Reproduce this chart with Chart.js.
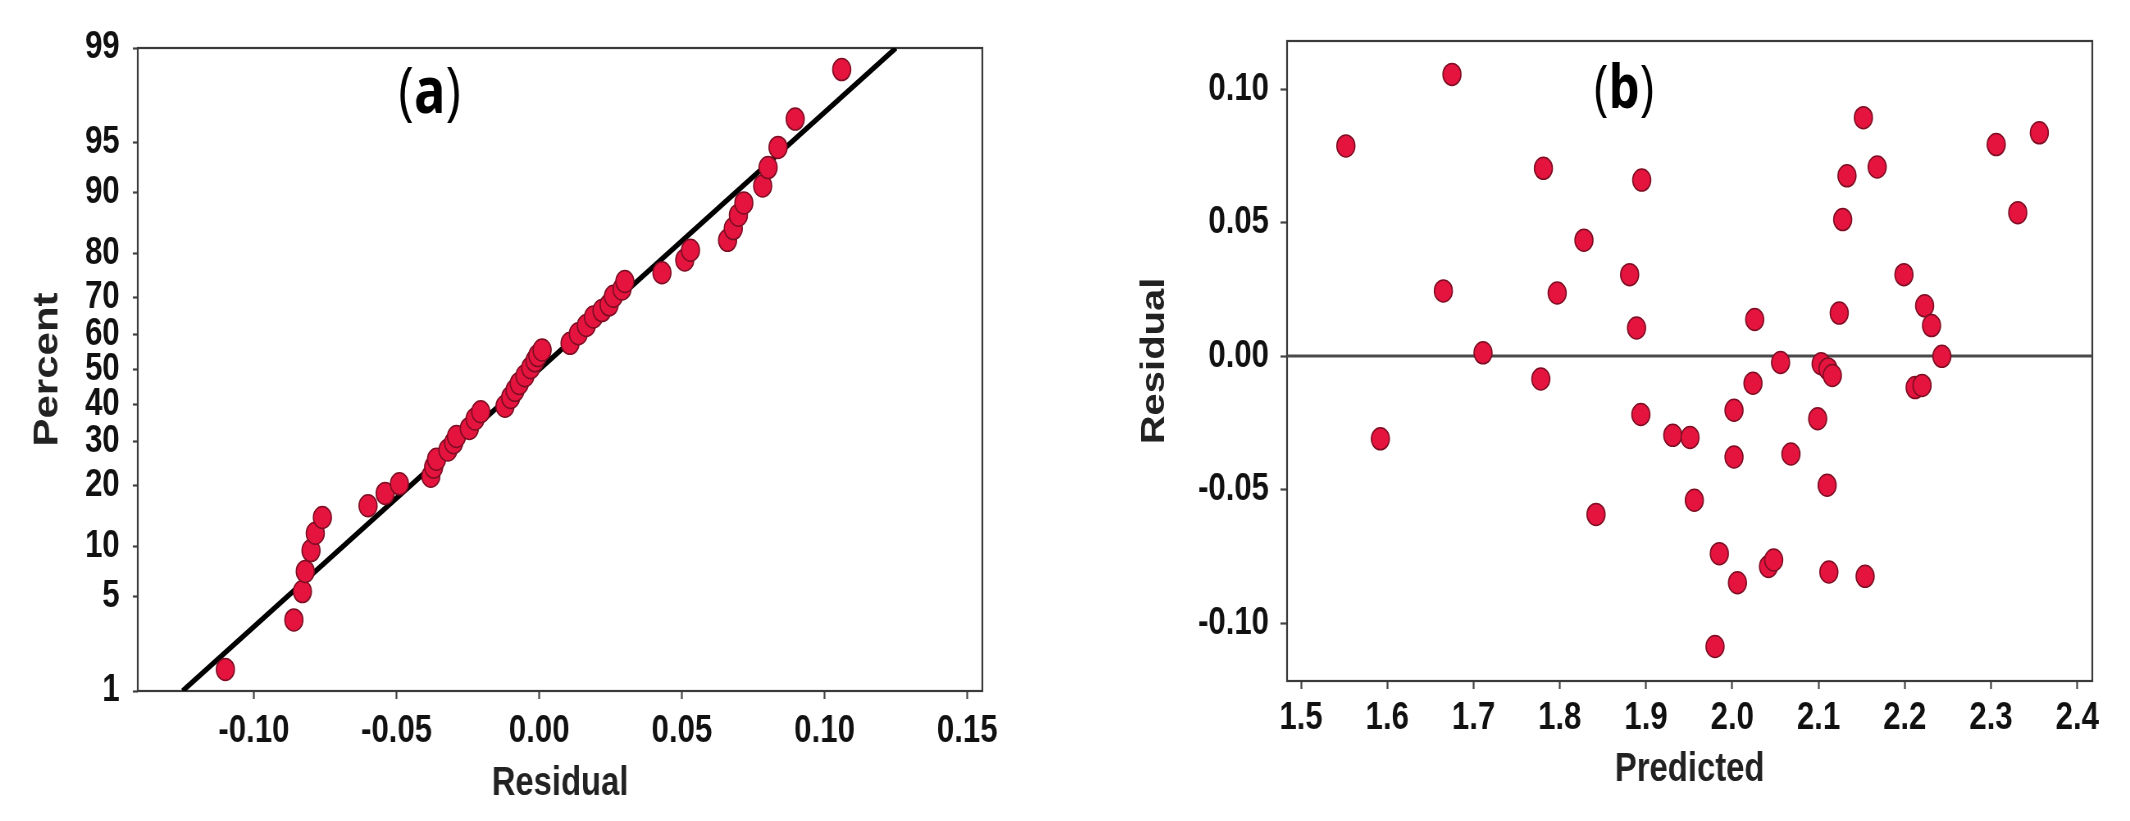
<!DOCTYPE html>
<html>
<head>
<meta charset="utf-8">
<script src="https://cdn.jsdelivr.net/npm/chart.js@4.4.0/dist/chart.umd.min.js"></script>
<style>
  html, body { margin: 0; padding: 0; background: #fff; }
  body { width: 2130px; height: 821px; position: relative; overflow: hidden; }
  /* the original figure is squeezed horizontally, so the canvases are drawn wide and shown narrower */
  canvas { position: absolute; top: 0; }
  #chartA { left: 0; }
  #chartB { left: 1064px; }
</style>
</head>
<body>
<canvas id="chartA" width="1300" height="821" style="width:1066px;height:821px"></canvas>
<canvas id="chartB" width="1300" height="821" style="width:1066px;height:821px"></canvas>
<script>
// (a) normal probability plot of residuals
const residualsA = [-0.110, -0.086, -0.083, -0.082, -0.080, -0.0785, -0.076, -0.060, -0.054, -0.049,
    -0.038, -0.037, -0.036, -0.032, -0.030, -0.029, -0.0245, -0.0225, -0.0205, -0.012,
    -0.010, -0.0085, -0.007, -0.005, -0.003, -0.0015, -0.0005, 0.001, 0.0108, 0.0137,
    0.0165, 0.019, 0.022, 0.0245, 0.026, 0.029, 0.030, 0.043, 0.051, 0.053,
    0.066, 0.068, 0.0698, 0.0717, 0.0783, 0.0802, 0.0837, 0.0897, 0.106];
const percentA = [1.5, 3.5, 5.4, 7.2, 9.5, 11.8, 14.2, 16.2, 18.5, 20.4,
    22.0, 24.0, 25.8, 28.0, 29.8, 31.4, 33.5, 36.0, 38.0, 39.5,
    42.0, 44.0, 46.0, 48.2, 50.5, 52.5, 54.0, 55.6, 57.5, 60.2,
    62.5, 64.8, 66.5, 68.0, 70.2, 72.0, 73.8, 75.8, 78.6, 80.6,
    82.5, 84.6, 86.8, 88.6, 90.8, 92.8, 94.6, 96.5, 98.5];
const fitLineX = [-0.125, 0.125];
const fitLineP = [1, 99];
const percentTicks = [1, 5, 10, 20, 30, 40, 50, 60, 70, 80, 90, 95, 99];
const residualTicksA = [-0.10, -0.05, 0.00, 0.05, 0.10, 0.15];

// (b) residuals vs predicted
const predictedB = [1.552, 1.592, 1.665, 1.675, 1.711, 1.781, 1.778, 1.797, 1.828, 1.842,
    1.881, 1.889, 1.895, 1.894, 1.931, 1.951, 1.956, 1.985, 1.980, 2.002,
    2.002, 2.006, 2.026, 2.024, 2.042, 2.048, 2.056, 2.068, 2.099, 2.103,
    2.111, 2.116, 2.110, 2.112, 2.124, 2.128, 2.133, 2.152, 2.154, 2.168,
    2.199, 2.212, 2.220, 2.223, 2.231, 2.243, 2.306, 2.331, 2.356];
const residualsB = [0.0787, -0.0310, 0.0244, 0.1055, 0.0012, 0.0703, -0.0086, 0.0236, 0.0434, -0.0593,
    0.0305, 0.0105, 0.0659, -0.0219, -0.0297, -0.0305, -0.0540, -0.0740, -0.1088, -0.0203,
    -0.0378, -0.0849, 0.0137, -0.0102, -0.0788, -0.0764, -0.0024, -0.0367, -0.0235, -0.0029,
    -0.0048, -0.0073, -0.0484, -0.0809, 0.0161, 0.0511, 0.0675, 0.0893, -0.0825, 0.0708,
    0.0305, -0.0118, -0.0110, 0.0188, 0.0114, -0.0001, 0.0792, 0.0537, 0.0836];
const predictedTicks = [1.5, 1.6, 1.7, 1.8, 1.9, 2.0, 2.1, 2.2, 2.3, 2.4];
const residualTicksB = [-0.10, -0.05, 0.00, 0.05, 0.10];

const arial = '"Liberation Sans", Arial, sans-serif';
const pointFill = '#e5143f';
const pointEdge = '#7c0d22';

Chart.defaults.color = '#111';
Chart.defaults.animation = false;

// inverse of the standard normal cdf (Acklam)
function probit(p) {
    const a = [-39.69683028665376, 220.9460984245205, -275.9285104469687, 138.3577518672690, -30.66479806614716, 2.506628277459239];
    const b = [-54.47609879822406, 161.5858368580409, -155.6989798598866, 66.80131188771972, -13.28068155288572];
    const c = [-0.007784894002430293, -0.3223964580411365, -2.400758277161838, -2.549732539343734, 4.374664141464968, 2.938163982698783];
    const d = [0.007784695709041462, 0.3224671290700398, 2.445134137142996, 3.754408661907416];
    const lo = 0.02425;
    let q, r;
    if (p < lo) {
        q = Math.sqrt(-2 * Math.log(p));
        return (((((c[0]*q+c[1])*q+c[2])*q+c[3])*q+c[4])*q+c[5]) / ((((d[0]*q+d[1])*q+d[2])*q+d[3])*q+1);
    }
    if (p > 1 - lo) {
        q = Math.sqrt(-2 * Math.log(1 - p));
        return -(((((c[0]*q+c[1])*q+c[2])*q+c[3])*q+c[4])*q+c[5]) / ((((d[0]*q+d[1])*q+d[2])*q+d[3])*q+1);
    }
    q = p - 0.5;
    r = q * q;
    return (((((a[0]*r+a[1])*r+a[2])*r+a[3])*r+a[4])*r+a[5])*q / (((((b[0]*r+b[1])*r+b[2])*r+b[3])*r+b[4])*r+1);
}

// normal probability axis for the percent scale
class ProbitScale extends Chart.LinearScale {
    buildTicks() {
        return percentTicks.map(v => ({ value: v }));
    }
    getPixelForValue(v) {
        const z0 = probit(this.min / 100);
        const z1 = probit(this.max / 100);
        return this.getPixelForDecimal((probit(v / 100) - z0) / (z1 - z0));
    }
}
ProbitScale.id = 'probit';
ProbitScale.defaults = Chart.LinearScale.defaults;
Chart.register(ProbitScale);

const framePlugin = {
    id: 'frame',
    beforeDatasetsDraw(chart) {
        const { ctx, chartArea: a } = chart;
        ctx.save();
        ctx.strokeStyle = '#3a3a3a';
        ctx.lineWidth = 2.2;
        ctx.strokeRect(a.left, a.top, a.right - a.left, a.bottom - a.top);
        ctx.restore();
    }
};

// "(a)" / "(b)" with thin brackets and a bold letter
const panelLabelPlugin = {
    id: 'panelLabel',
    afterDraw(chart, args, opts) {
        const ctx = chart.ctx;
        const thin = opts.size + 'px "Open Sans", sans-serif';
        const bold = 'bold ' + opts.size + 'px "Open Sans", sans-serif';
        const parts = [['(', thin], [opts.letter, bold], [')', thin]];
        ctx.save();
        ctx.fillStyle = '#000';
        ctx.textBaseline = 'alphabetic';
        let total = 0;
        parts.forEach(p => { ctx.font = p[1]; total += ctx.measureText(p[0]).width; });
        let x = opts.x - total / 2;
        parts.forEach(p => {
            ctx.font = p[1];
            ctx.fillText(p[0], x, opts.y);
            x += ctx.measureText(p[0]).width;
        });
        ctx.restore();
    }
};

function gridOpts(len) {
    return { display: true, drawOnChartArea: false, drawTicks: true, tickLength: len, tickWidth: 2.2, tickColor: '#444' };
}

const tickFont = { family: arial, size: 38, weight: 'bold' };

new Chart(document.getElementById('chartA'), {
    type: 'scatter',
    data: {
        datasets: [{
            data: residualsA.map((r, i) => ({ x: r, y: percentA[i] })),
            backgroundColor: pointFill,
            borderColor: pointEdge,
            borderWidth: 1.5,
            pointRadius: 11,
            order: 1
        }, {
            type: 'line',
            data: fitLineX.map((r, i) => ({ x: r, y: fitLineP[i] })),
            borderColor: '#000',
            borderWidth: 5.5,
            pointRadius: 0,
            order: 2
        }]
    },
    options: {
        responsive: false,
        layout: { padding: { left: 0, top: 48, right: 102, bottom: 0 } },
        plugins: {
            legend: { display: false },
            tooltip: { enabled: false },
            panelLabel: { letter: 'a', x: 524, y: 113, size: 64 }
        },
        scales: {
            x: {
                type: 'linear',
                min: -0.1407,
                max: 0.1553,
                afterBuildTicks: s => { s.ticks = residualTicksA.map(v => ({ value: v })); },
                afterFit: s => { s.height = 130; },
                grid: gridOpts(8),
                border: { display: false },
                ticks: { autoSkip: false, maxRotation: 0, padding: 10, font: tickFont, callback: v => v.toFixed(2) },
                title: { display: true, text: 'Residual', color: '#222', padding: { top: 0, bottom: 13 }, font: { family: arial, size: 40, weight: 'bold' } }
            },
            y: {
                type: 'probit',
                min: 1,
                max: 99,
                afterFit: s => { s.width = 168; },
                grid: gridOpts(6),
                border: { display: false },
                ticks: { autoSkip: false, padding: 16, font: tickFont, callback: v => String(v) },
                title: { display: true, text: 'Percent', color: '#222', padding: { top: 33, bottom: 0 }, font: { family: arial, size: 42, weight: 'bold' } }
            }
        }
    },
    plugins: [framePlugin, panelLabelPlugin]
});

const xMinB = 1.4838, xMaxB = 2.4174;

new Chart(document.getElementById('chartB'), {
    type: 'scatter',
    data: {
        datasets: [{
            data: predictedB.map((p, i) => ({ x: p, y: residualsB[i] })),
            backgroundColor: pointFill,
            borderColor: pointEdge,
            borderWidth: 1.5,
            pointRadius: 11,
            order: 1
        }, {
            type: 'line',
            data: [{ x: xMinB, y: 0 }, { x: xMaxB, y: 0 }],
            borderColor: '#4a4a4a',
            borderWidth: 3,
            pointRadius: 0,
            order: 2
        }]
    },
    options: {
        responsive: false,
        layout: { padding: { left: 0, top: 41, right: 46, bottom: 0 } },
        plugins: {
            legend: { display: false },
            tooltip: { enabled: false },
            panelLabel: { letter: 'b', x: 683, y: 108, size: 60 }
        },
        scales: {
            x: {
                type: 'linear',
                min: xMinB,
                max: xMaxB,
                afterBuildTicks: s => { s.ticks = predictedTicks.map(v => ({ value: v })); },
                afterFit: s => { s.height = 140; },
                grid: gridOpts(8),
                border: { display: false },
                ticks: { autoSkip: false, maxRotation: 0, padding: 7, font: tickFont, callback: v => v.toFixed(1) },
                title: { display: true, text: 'Predicted', color: '#222', padding: { top: 0, bottom: 27 }, font: { family: arial, size: 40, weight: 'bold' } }
            },
            y: {
                type: 'linear',
                min: -0.1217,
                max: 0.118,
                afterBuildTicks: s => { s.ticks = residualTicksB.map(v => ({ value: v })); },
                afterFit: s => { s.width = 272; },
                grid: gridOpts(8),
                border: { display: false },
                ticks: { autoSkip: false, padding: 14, font: tickFont, callback: v => v.toFixed(2) },
                title: { display: true, text: 'Residual', color: '#222', padding: { top: 87, bottom: 0 }, font: { family: arial, size: 40, weight: 'bold' } }
            }
        }
    },
    plugins: [framePlugin, panelLabelPlugin]
});
</script>
</body>
</html>
